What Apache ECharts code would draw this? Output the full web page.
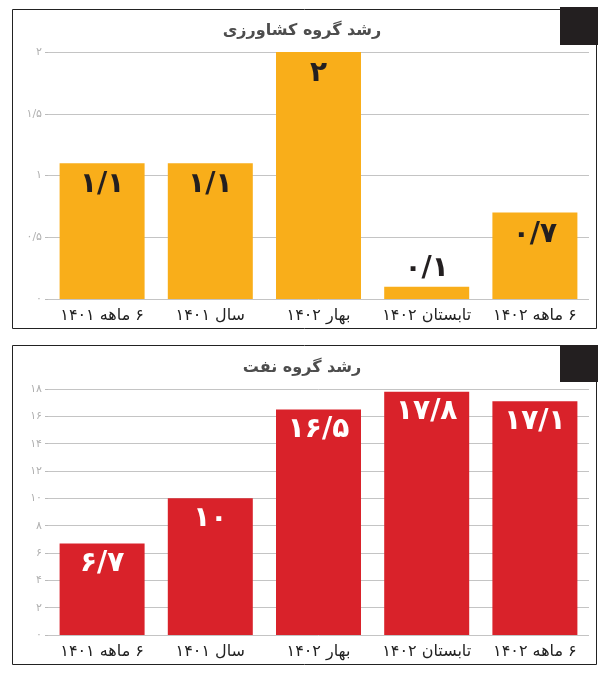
<!DOCTYPE html>
<html>
<head>
<meta charset="utf-8">
<script src="https://cdn.jsdelivr.net/npm/echarts@6/dist/echarts.min.js"></script>
<style>
  html, body { margin: 0; padding: 0; background: #fff; }
  #chart { width: 599px; height: 673px; }
</style>
</head>
<body>
<div id="chart"></div>
<script>
const categories = ['۶ ماهه ۱۴۰۱', 'سال ۱۴۰۱', 'بهار ۱۴۰۲', 'تابستان ۱۴۰۲', '۶ ماهه ۱۴۰۲']
const farmValues = [1.1, 1.1, 2, 0.1, 0.7]
const oilValues = [6.7, 10, 16.5, 17.8, 17.1]
const farmTitle = 'رشد گروه کشاورزی'
const oilTitle = 'رشد گروه نفت'

const faDigits = '۰۱۲۳۴۵۶۷۸۹'
function fa(n) {
  return String(n).replace(/[0-9]/g, d => faDigits[d]).replace('.', '/')
}

const font = 'DejaVu Sans'

const chart = echarts.init(document.getElementById('chart'))

function yAxis(gridIndex, max, interval) {
  return {
    type: 'value', gridIndex, min: 0, max, interval,
    axisLine: { show: false },
    axisTick: { show: true, length: 3, lineStyle: { color: '#bbb' } },
    splitLine: { lineStyle: { color: '#c4c4c4', width: 1 } },
    axisLabel: { color: '#b0b0b0', fontSize: 11, fontFamily: font, margin: 6, formatter: v => fa(v) }
  }
}
function xAxis(gridIndex) {
  return {
    type: 'category', gridIndex, data: categories,
    axisLine: { show: false }, axisTick: { show: false },
    axisLabel: { interval: 0, color: '#222', fontSize: 16, fontFamily: font, margin: 9, formatter: v => '\u200F' + v }
  }
}

chart.setOption({
  animation: false,
  grid: [
    { left: 48, right: 10, top: 52, bottom: 374 },
    { left: 48, right: 10, top: 389, bottom: 38 }
  ],
  xAxis: [xAxis(0), xAxis(1)],
  yAxis: [yAxis(0, 2, 0.5), yAxis(1, 18, 2)],
  graphic: [
    { type: 'rect', shape: { x: 12.5, y: 9.5, width: 584, height: 319 }, style: { fill: 'none', stroke: '#222', lineWidth: 1 }, z: -1 },
    { type: 'rect', shape: { x: 12.5, y: 345.5, width: 584, height: 319 }, style: { fill: 'none', stroke: '#222', lineWidth: 1 }, z: -1 },
    { type: 'rect', shape: { x: 560, y: 7, width: 38, height: 38 }, style: { fill: '#231f20' } },
    { type: 'rect', shape: { x: 560, y: 345, width: 38, height: 37 }, style: { fill: '#231f20' } },
    { type: 'text', x: 302, y: 31, style: { text: farmTitle, fill: '#4d4d4d', font: 'bold 16px "DejaVu Sans"', align: 'center', verticalAlign: 'middle' } },
    { type: 'text', x: 302, y: 368, style: { text: oilTitle, fill: '#4d4d4d', font: 'bold 16px "DejaVu Sans"', align: 'center', verticalAlign: 'middle' } }
  ],
  series: [
    {
      type: 'bar', xAxisIndex: 0, yAxisIndex: 0, barWidth: 85,
      itemStyle: { color: '#f9ae1a' },
      data: farmValues.map(v => v < 0.3
        ? { value: v, label: { position: 'top', distance: 4 } }
        : v),
      label: {
        show: true, position: 'insideTop', distance: 8,
        color: '#231f20', fontSize: 28, fontWeight: 'bold', fontFamily: font,
        formatter: p => fa(p.value)
      }
    },
    {
      type: 'bar', xAxisIndex: 1, yAxisIndex: 1, barWidth: 85,
      itemStyle: { color: '#d9222a' },
      data: oilValues,
      label: {
        show: true, position: 'insideTop', distance: 6,
        color: '#fff', fontSize: 28, fontWeight: 'bold', fontFamily: font,
        formatter: p => fa(p.value)
      }
    }
  ]
})
</script>
</body>
</html>
